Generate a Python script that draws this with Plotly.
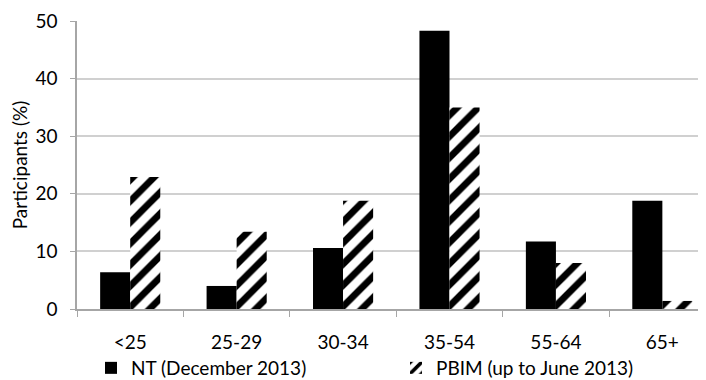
import plotly.graph_objects as go

categories = ["<25", "25-29", "30-34", "35-54", "55-64", "65+"]
nt_values = [6.4, 4.0, 10.6, 48.3, 11.7, 18.8]
pbim_values = [22.9, 13.4, 18.8, 35.0, 8.0, 1.4]
y_ticks = [0, 10, 20, 30, 40, 50]

FONT = "Lato"
FS = 19
W, H = 698, 372  # page body has an 8px default margin

fig = go.Figure()
fig.add_trace(go.Bar(
    x=categories, y=nt_values, name="NT (December 2013)",
    marker=dict(color="black", line=dict(width=0)), legend="legend",
))
fig.add_trace(go.Bar(
    x=categories, y=pbim_values, name="PBIM (up to June 2013)",
    marker=dict(color="white", line=dict(width=0),
                pattern=dict(shape="/", fgcolor="black", bgcolor="white", fgopacity=1,
                             size=15, solidity=0.45, fillmode="overlay")),
    legend="legend2",
))

leg_common = dict(orientation="h", xref="container", yref="container",
                  xanchor="left", yanchor="middle", y=1 - 360 / H,
                  font=dict(family=FONT, size=FS), itemwidth=30,
                  bgcolor="rgba(0,0,0,0)")

fig.update_layout(
    width=W, height=H,
    margin=dict(l=69, r=0, t=13, b=71, autoexpand=False),
    paper_bgcolor="white", plot_bgcolor="white",
    font=dict(family=FONT, size=FS, color="black"),
    barmode="group", bargap=0.435, bargroupgap=0,
    showlegend=True,
    legend=dict(x=83 / W, **leg_common),
    legend2=dict(x=388 / W, **leg_common),
    xaxis=dict(
        type="category", range=[-0.5, 5.41], automargin=False,
        showline=True, linecolor="#a6a6a6", linewidth=1.5,
        ticks="outside", tickson="boundaries", ticklen=6, tickcolor="#a6a6a6",
        showgrid=False, ticklabelstandoff=15,
        tickfont=dict(family=FONT, size=FS),
    ),
    yaxis=dict(
        range=[0, 50], tickvals=y_ticks, automargin=False,
        showline=True, linecolor="#a6a6a6", linewidth=1.5,
        ticks="outside", ticklen=5, tickcolor="#a6a6a6",
        showgrid=True, gridcolor="#d0d0d0", gridwidth=1.5,
        zeroline=False, ticklabelstandoff=9, ticklabeloverflow="allow",
        title=dict(text="Participants (%)", font=dict(family=FONT, size=FS), standoff=4),
        tickfont=dict(family=FONT, size=FS),
    ),
)

fig.write_html("out.html")
